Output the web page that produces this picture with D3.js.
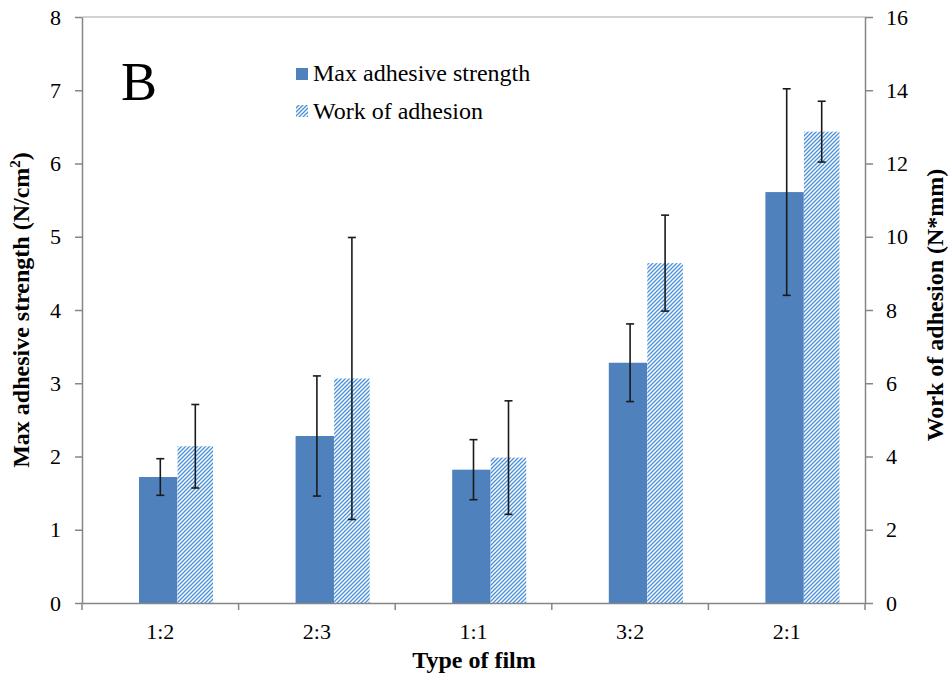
<!DOCTYPE html>
<html><head><meta charset="utf-8">
<script src="https://cdn.jsdelivr.net/npm/d3@7"></script>
<style>body{margin:0;background:#fff}svg{display:block}text{font-family:"Liberation Serif","Times New Roman",serif;fill:#000}</style>
</head><body><svg id="c" width="951" height="679"></svg>
<script>
const categories = ["1:2","2:3","1:1","3:2","2:1"];
const maxStrength = [1.72, 2.28, 1.82, 3.28, 5.61];
const maxStrengthErr = [0.25, 0.82, 0.41, 0.53, 1.41];
const workAdhesion = [4.28, 6.13, 3.97, 9.28, 12.87];
const workAdhesionErr = [1.14, 3.85, 1.55, 1.31, 0.83];
const leftTicks = [0,1,2,3,4,5,6,7,8];
const rightTicks = [0,2,4,6,8,10,12,14,16];
const seriesNames = ["Max adhesive strength","Work of adhesion"];

const svg = d3.select("#c");
const L = 82, R = 865, T = 17, B = 603;
const blue = "#4f81bd", hatchCol = "#4a90d8";

const defs = svg.append("defs");
const pat = defs.append("pattern").attr("id","hatch").attr("patternUnits","userSpaceOnUse")
  .attr("width",4).attr("height",4);
pat.append("rect").attr("width",4).attr("height",4).attr("fill","#fff");
pat.append("path").attr("d","M-1,1 L1,-1 M0,4 L4,0 M3,5 L5,3")
  .attr("stroke",hatchCol).attr("stroke-width",1.3);

const x = d3.scaleBand().domain(categories).range([L,R]).padding(0);
const yL = d3.scaleLinear().domain([0,8]).range([B,T]);
const yR = d3.scaleLinear().domain([0,16]).range([B,T]);
const bw = x.bandwidth();
const bOff = bw*0.364, hOff = bw*0.61, barW = bw*0.245, hatchW = bw*0.227;

svg.append("line").attr("x1",L).attr("x2",R).attr("y1",T).attr("y2",T).attr("stroke","#a6a6a6").attr("stroke-width",1);

svg.selectAll(".bb").data(categories).join("rect")
  .attr("x",(d)=>x(d)+bOff).attr("width",barW)
  .attr("y",(d,i)=>yL(maxStrength[i])).attr("height",(d,i)=>B-yL(maxStrength[i]))
  .attr("fill",blue);
svg.selectAll(".hb").data(categories).join("rect")
  .attr("x",(d)=>x(d)+hOff).attr("width",hatchW)
  .attr("y",(d,i)=>yR(workAdhesion[i])).attr("height",(d,i)=>B-yR(workAdhesion[i]))
  .attr("fill","url(#hatch)");

function errBars(cx, vals, errs, sc){
  const g = svg.append("g").attr("stroke","#1a1a1a").attr("stroke-width",1.6);
  categories.forEach((c,i)=>{
    const xc = cx(c), y1 = sc(vals[i]+errs[i]), y2 = sc(vals[i]-errs[i]);
    g.append("line").attr("x1",xc).attr("x2",xc).attr("y1",y1).attr("y2",y2);
    g.append("line").attr("x1",xc-4).attr("x2",xc+4).attr("y1",y1).attr("y2",y1);
    g.append("line").attr("x1",xc-4).attr("x2",xc+4).attr("y1",y2).attr("y2",y2);
  });
}
errBars(c=>x(c)+bw/2, maxStrength, maxStrengthErr, yL);
errBars(c=>x(c)+hOff+hatchW/2, workAdhesion, workAdhesionErr, yR);

const axisStyle = g=>{ g.selectAll("path,line").attr("stroke","#868686").attr("stroke-width",1.5);
  g.selectAll("text").attr("font-size",22).attr("font-family","Liberation Serif").attr("fill","#000"); };
svg.append("g").attr("transform",`translate(${L},0)`)
  .call(d3.axisLeft(yL).tickValues(leftTicks).tickSize(7).tickSizeOuter(0).tickPadding(14).tickFormat(d3.format("d")))
  .call(axisStyle);
svg.append("g").attr("transform",`translate(${R},0)`)
  .call(d3.axisRight(yR).tickValues(rightTicks).tickSize(8).tickSizeOuter(0).tickPadding(13).tickFormat(d3.format("d")))
  .call(axisStyle);
const xa = svg.append("g").attr("transform",`translate(0,${B})`)
  .call(d3.axisBottom(x).tickSize(0).tickPadding(20))
  .call(axisStyle);
const bounds = categories.map(c=>x(c)).concat([R]);
xa.selectAll(".bt").data(bounds).join("line").attr("x1",d=>d).attr("x2",d=>d).attr("y1",0).attr("y2",7)
  .attr("stroke","#868686").attr("stroke-width",1.5);

svg.append("text").attr("x",474).attr("y",668).attr("text-anchor","middle")
  .attr("font-weight","bold").attr("font-size",24).text("Type of film");
svg.append("text").attr("transform","translate(29,310) rotate(-90)").attr("text-anchor","middle")
  .attr("font-weight","bold").attr("font-size",24)
  .html('Max adhesive strength (N/cm<tspan dy="-9" font-size="15">2</tspan><tspan dy="9">)</tspan>');
svg.append("text").attr("transform","translate(943,305) rotate(-90)").attr("text-anchor","middle")
  .attr("font-weight","bold").attr("font-size",24).text("Work of adhesion (N*mm)");

svg.append("text").attr("x",121).attr("y",100).attr("font-size",54).text("B");

const lg = svg.append("g");
lg.append("rect").attr("x",296).attr("y",68).attr("width",12).attr("height",12).attr("fill",blue);
lg.append("rect").attr("x",296).attr("y",105).attr("width",12).attr("height",12).attr("fill","url(#hatch)");
lg.append("text").attr("x",313).attr("y",81).attr("font-size",24).text(seriesNames[0]);
lg.append("text").attr("x",313).attr("y",119).attr("font-size",24).text(seriesNames[1]);
</script></body></html>
